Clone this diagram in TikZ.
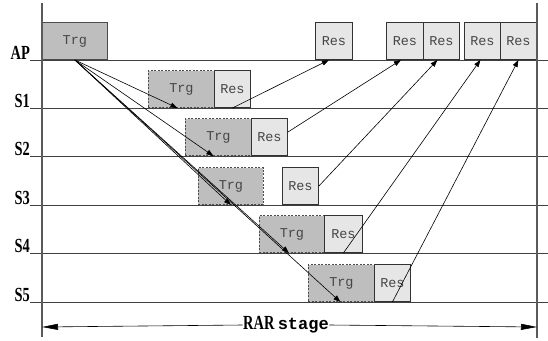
\documentclass[tikz,border=0pt]{standalone}
\usepackage{fontspec}
\setmainfont{Liberation Serif}
\setmonofont{Liberation Mono}
\usetikzlibrary{arrows.meta}
\definecolor{trgfill}{RGB}{190,190,190}
\definecolor{resfill}{RGB}{230,230,230}
\definecolor{txt}{RGB}{70,70,70}
\definecolor{axis}{RGB}{90,90,90}
\newcommand{\condlab}[1]{\scalebox{0.72}[1]{#1}}
\tikzset{
  box/.style={anchor=south west, minimum height=37pt, inner sep=0pt, font=\ttfamily\fontsize{13.5}{13.5}\selectfont, text=txt},
  trgsolid/.style={box, draw=black!70, fill=trgfill, line width=0.8pt},
  trgdash/.style={box, draw=black!70, fill=trgfill, dashed, dash pattern=on 2pt off 1.5pt, line width=0.8pt},
  resbox/.style={box, draw=black!80, fill=resfill, line width=0.8pt},
  lab/.style={anchor=base east, inner sep=0pt, font=\bfseries\fontsize{20}{20}\selectfont},
  hline/.style={draw=black!75, line width=0.8pt},
  sig/.style={draw=black, line width=0.6pt, -{Triangle[length=7pt,width=5pt]}},
}
\begin{document}
\begin{tikzpicture}[x=1pt,y=-1pt]
\useasboundingbox (0,0) rectangle (548,340);
% horizontal lines
\foreach \yy in {60,108,156,205,253,302} \draw[hline] (30,\yy) -- (548,\yy);
% labels
\node[lab] (lAP) at (30,59) {\condlab{AP}};
\node[lab] (lS1) at (30,107) {\condlab{S1}};
\node[lab] (lS2) at (30,155) {\condlab{S2}};
\node[lab] (lS3) at (30,204) {\condlab{S3}};
\node[lab] (lS4) at (30,252) {\condlab{S4}};
\node[lab] (lS5) at (30,301) {\condlab{S5}};
% AP boxes
\node[trgsolid, minimum width=65pt] (aptrg) at (42,60) {Trg};
\node[resbox, minimum width=37pt] (apr1) at (315,60) {Res};
\node[resbox, minimum width=37pt] (apr2) at (386,60) {Res};
\node[resbox, minimum width=36pt] (apr3) at (423,60) {Res};
\node[resbox, minimum width=36pt] (apr4) at (464,60) {Res};
\node[resbox, minimum width=36pt] (apr5) at (500,60) {Res};
% S1
\node[trgdash, minimum width=66pt] (t1) at (148,108) {Trg};
\node[resbox, minimum width=36pt] (r1) at (214,108) {Res};
% S2
\node[trgdash, minimum width=66pt] (t2) at (185,156) {Trg};
\node[resbox, minimum width=36pt] (r2) at (251,156) {Res};
% S3
\node[trgdash, minimum width=65pt] (t3) at (198,205) {Trg};
\node[resbox, minimum width=36pt] (r3) at (282,205) {Res};
% S4
\node[trgdash, minimum width=65pt] (t4) at (259,253) {Trg};
\node[resbox, minimum width=38pt] (r4) at (324,253) {Res};
% S5
\node[trgdash, minimum width=66pt] (t5) at (308,302) {Trg};
\node[resbox, minimum width=36pt] (r5) at (374,302) {Res};
% vertical axes
\draw[draw=axis, line width=1.3pt] (42,3) -- (42,337);
\draw[draw=axis, line width=1.3pt] (537,3) -- (537,338);
% trigger arrows
\draw[sig] (aptrg.south) -- ([xshift=-4pt]t1.south);
\draw[sig] (aptrg.south) -- ([xshift=-5pt]t2.south);
\draw[sig] (aptrg.south) -- (t3.south);
\draw[sig] (aptrg.south) -- ([xshift=-3pt]t4.south);
\draw[sig] (aptrg.south) -- ([xshift=-1pt]t5.south);
% response arrows
\draw[sig] (r1.south) -- ([xshift=-5pt]apr1.south);
\draw[sig] ([yshift=5pt]r2.east) -- ([xshift=-4pt]apr2.south);
\draw[sig] (r3.east) -- ([xshift=-4pt]apr3.south);
\draw[sig] (r4.south) -- ([xshift=-2pt]apr4.south);
\draw[sig] (r5.south) -- (apr5.south);
% RAR stage
\coordinate (ral) at (42,327);
\coordinate (rar) at (537,327);
\node[fill=white, inner sep=0.5pt, font=\bfseries\fontsize{20}{20}\selectfont] (rarlab) at (286,325) {\condlab{RAR}\,{\ttfamily\fontsize{17}{17}\selectfont stage}};
\draw[line width=0.6pt, -{Triangle[length=16pt,width=6pt]}] (rarlab.west) -- (ral);
\draw[line width=0.6pt, -{Triangle[length=16pt,width=6pt]}] (rarlab.east) -- (rar);
\end{tikzpicture}
\end{document}
